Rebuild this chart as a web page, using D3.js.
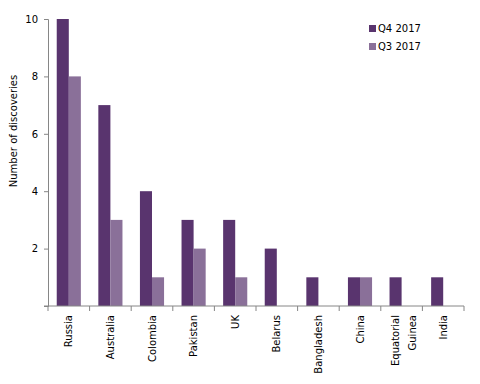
<!DOCTYPE html>
<html>
<head>
<meta charset="utf-8">
<script src="https://cdn.jsdelivr.net/npm/d3@7"></script>
<style>
  body { margin: 0; background: #fff; }
  text { font-family: "DejaVu Sans", Verdana, sans-serif; font-size: 10px; fill: #000; }
</style>
</head>
<body>
<div id="chart"></div>
<script>
// chart data
const countries = ["Russia", "Australia", "Colombia", "Pakistan", "UK", "Belarus", "Bangladesh", "China", "Equatorial Guinea", "India"];
const q4_2017 = [10, 7, 4, 3, 3, 2, 1, 1, 1, 1];
const q3_2017 = [8, 3, 1, 2, 1, 0, 0, 1, 0, 0];
const seriesNames = ["Q4 2017", "Q3 2017"];
const yTicks = [2, 4, 6, 8, 10];

const colors = ["#59346E", "#8A7099"];
const axisColor = "#868686";

const margin = { top: 19, right: 16, bottom: 78, left: 48 };
const width = 480 - margin.left - margin.right,
      height = 384 - margin.top - margin.bottom;

const svg = d3.select("#chart")
    .append("svg")
    .attr("width", 480)
    .attr("height", 384)
    .append("g")
    .attr("transform", "translate(" + margin.left + "," + margin.top + ")");

const x = d3.scaleBand()
    .domain(countries)
    .range([0, width])
    .paddingInner(0.42)
    .paddingOuter(0.21);

const x1 = d3.scaleBand()
    .domain(seriesNames)
    .range([0, x.bandwidth()]);

const y = d3.scaleLinear()
    .domain([0, 10])
    .range([height, 0]);

// bars
const rows = countries.map((c, i) => ({ country: c, values: [q4_2017[i], q3_2017[i]] }));
const groups = svg.selectAll(".grp")
    .data(rows)
    .enter()
    .append("g")
    .attr("transform", d => "translate(" + x(d.country) + ",0)");

groups.selectAll("rect")
    .data(d => d.values.map((v, j) => ({ s: seriesNames[j], v: v, j: j })))
    .enter()
    .append("rect")
    .attr("x", d => x1(d.s))
    .attr("width", x1.bandwidth())
    .attr("y", d => y(d.v))
    .attr("height", d => height - y(d.v))
    .attr("fill", d => colors[d.j]);

// y axis
const yAxis = svg.append("g")
    .call(d3.axisLeft(y).tickValues(yTicks).tickSize(4).tickPadding(6).tickFormat(d3.format("d")));
yAxis.select(".domain").attr("stroke", axisColor);
yAxis.selectAll(".tick line").attr("stroke", axisColor);
yAxis.selectAll("text").style("font-family", "DejaVu Sans").style("font-size", "10px");

// x axis: ticks on category boundaries
const xAxisG = svg.append("g").attr("transform", "translate(0," + height + ")");
xAxisG.append("line")
    .attr("x1", -4).attr("x2", width)
    .attr("stroke", axisColor);
const step = x.step();
const bounds = d3.range(countries.length + 1).map(i => i * step);
xAxisG.selectAll(".btick")
    .data(bounds)
    .enter()
    .append("line")
    .attr("x1", d => d).attr("x2", d => d)
    .attr("y1", 0).attr("y2", 5)
    .attr("stroke", axisColor);

// category labels, rotated
const labels = xAxisG.selectAll(".clabel")
    .data(countries)
    .enter()
    .append("text")
    .attr("transform", d => "translate(" + (x(d) + x.bandwidth() / 2) + ",9) rotate(-90)")
    .style("text-anchor", "end");
labels.each(function (d) {
    const parts = d === "Equatorial Guinea" ? ["Equatorial", "Guinea"] : [d];
    const t = d3.select(this);
    parts.forEach((p, i) => {
        t.append("tspan")
            .attr("x", 0)
            .attr("dy", i === 0 ? (parts.length === 1 ? "0.35em" : "-0.3em") : "1.7em")
            .text(p);
    });
});

// y label
svg.append("text")
    .attr("transform", "rotate(-90)")
    .attr("x", 0 - 112)
    .attr("y", 0 - margin.left + 17)
    .style("text-anchor", "middle")
    .text("Number of discoveries");

// legend
const legend = svg.selectAll(".leg")
    .data(seriesNames)
    .enter()
    .append("g")
    .attr("transform", (d, i) => "translate(" + (369 - margin.left) + "," + (25 - margin.top + i * 18) + ")");
legend.append("rect")
    .attr("width", 7).attr("height", 7)
    .attr("fill", (d, i) => colors[i]);
legend.append("text")
    .attr("x", 9).attr("y", 7)
    .text(d => d);
</script>
</body>
</html>
